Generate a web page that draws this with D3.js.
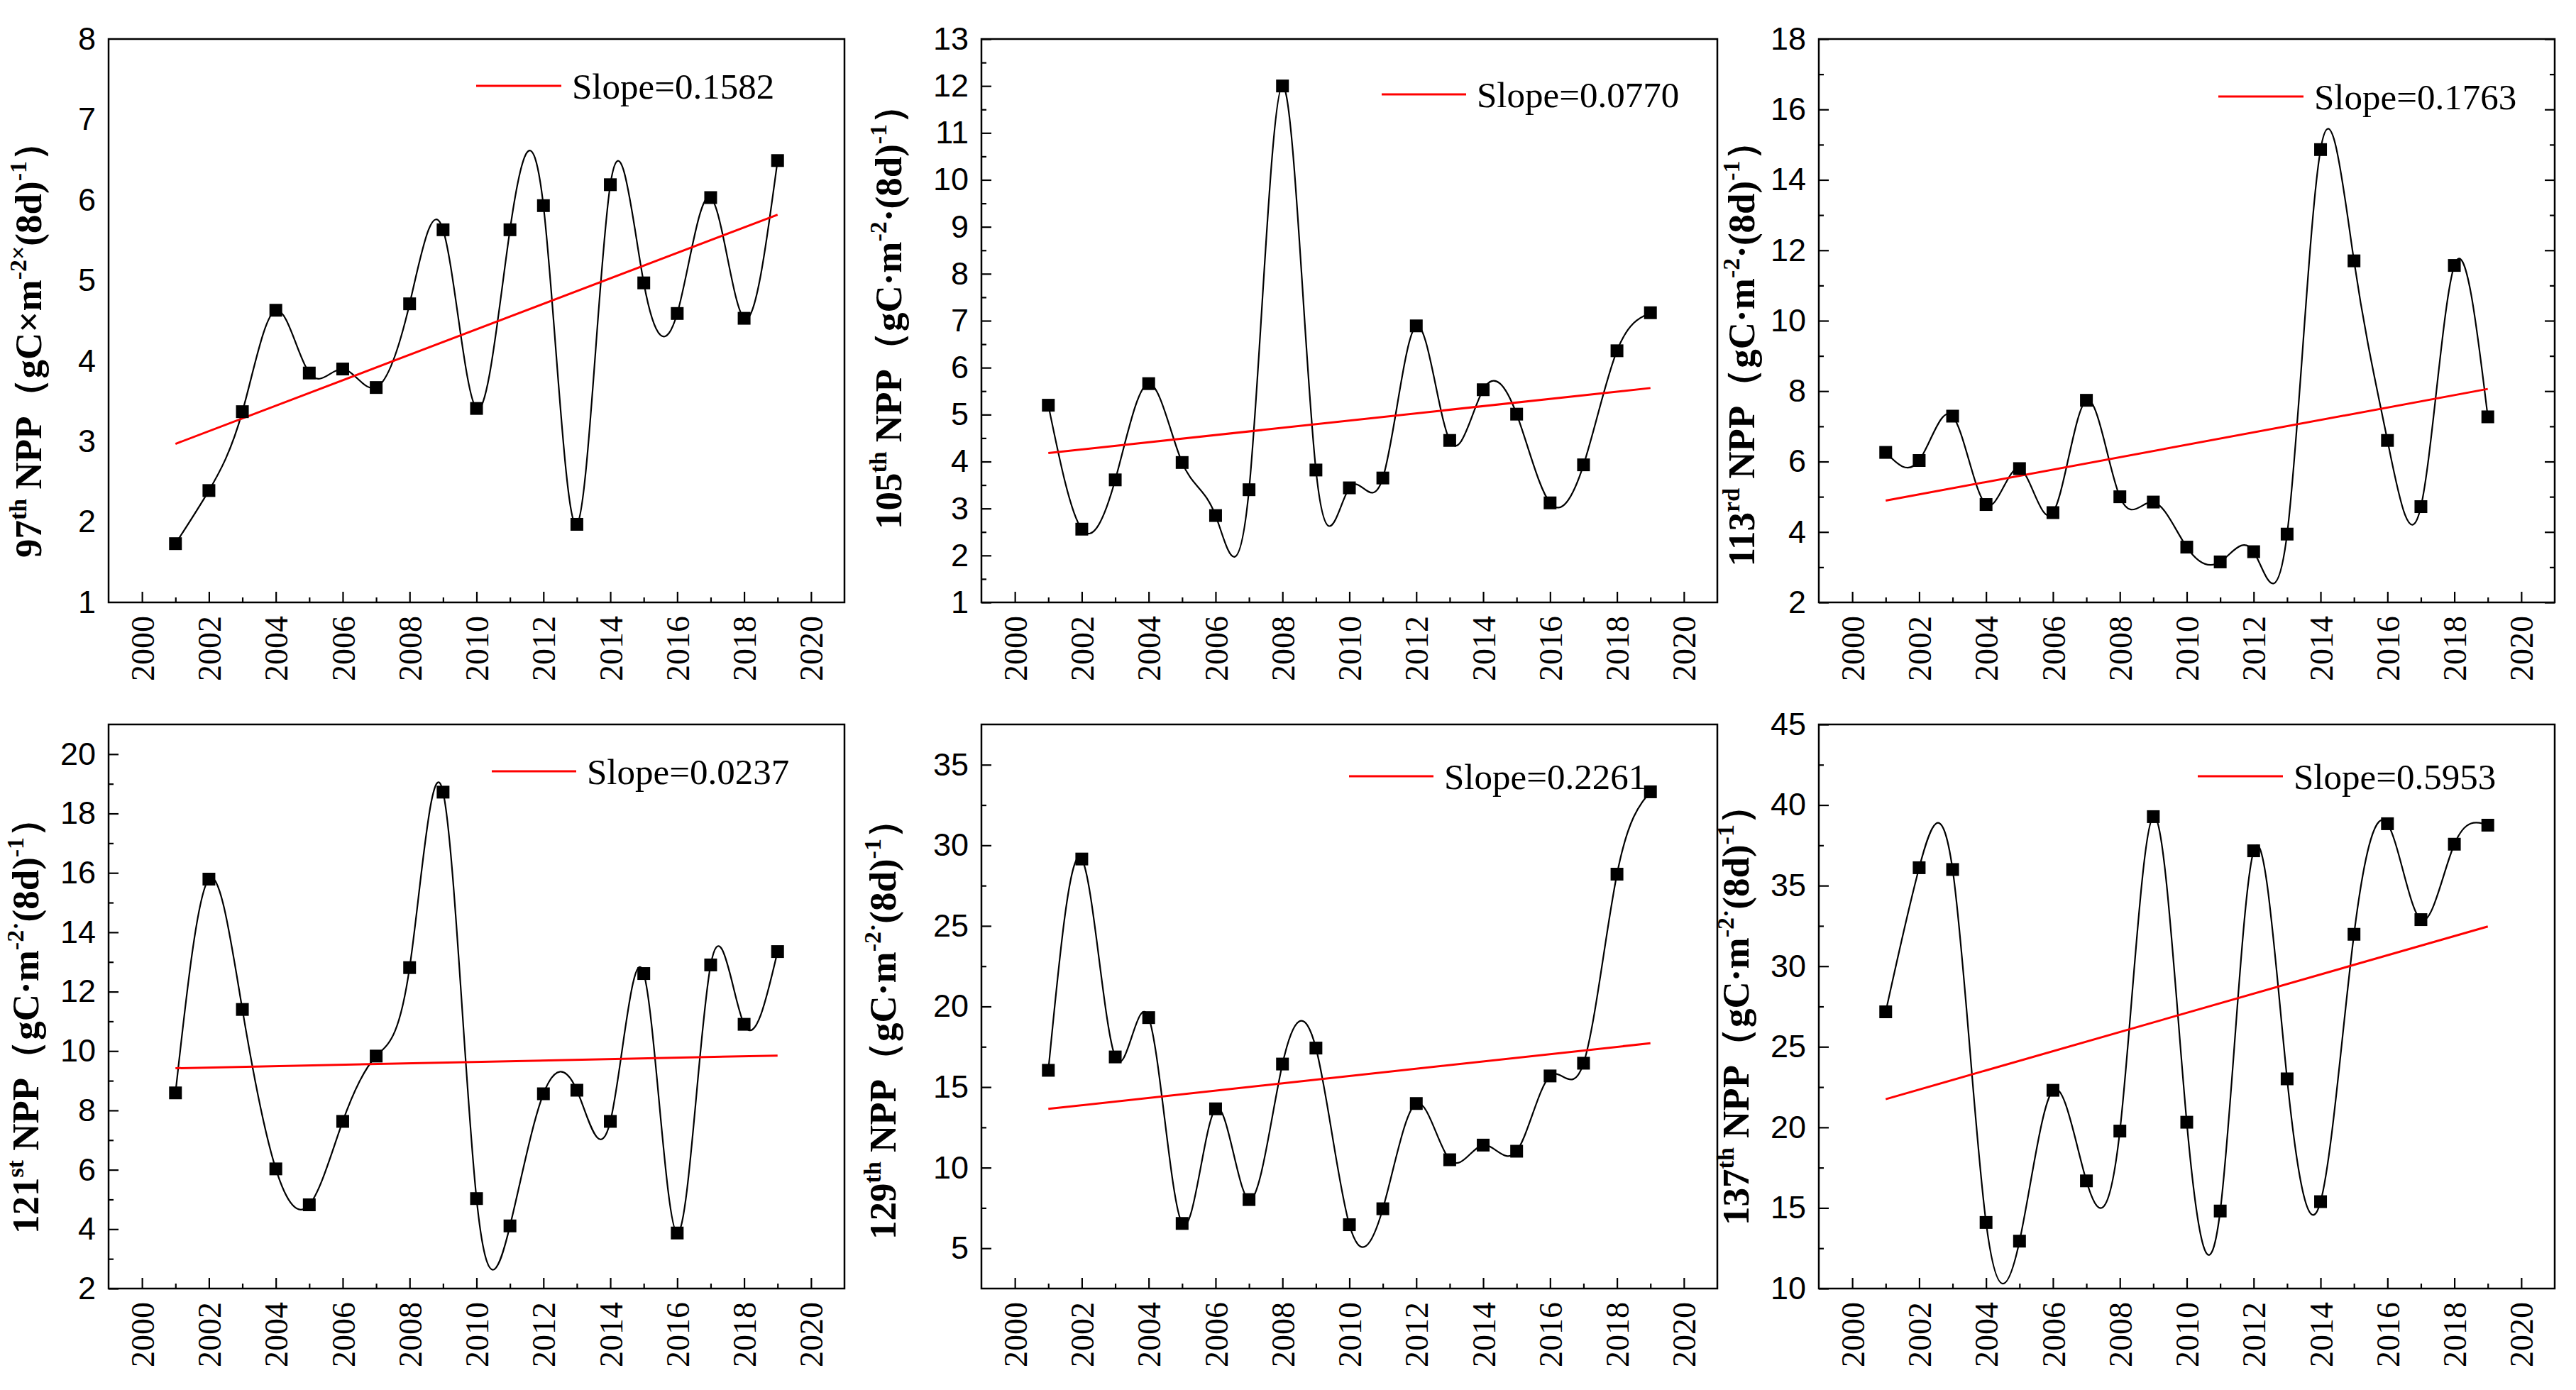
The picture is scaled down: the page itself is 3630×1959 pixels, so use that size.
<!DOCTYPE html>
<html>
<head>
<meta charset="utf-8">
<script src="https://cdn.jsdelivr.net/npm/d3@7"></script>
<style>
  html, body { margin: 0; padding: 0; background: #fff; }
</style>
</head>
<body>
<script>
// years on the x axis
const years = [2001, 2002, 2003, 2004, 2005, 2006, 2007, 2008, 2009, 2010,
               2011, 2012, 2013, 2014, 2015, 2016, 2017, 2018, 2019];

// NPP series, one per panel
const npp97  = [1.73, 2.39, 3.37, 4.63, 3.85, 3.90, 3.67, 4.71, 5.63, 3.41,
                5.63, 5.93, 1.97, 6.19, 4.97, 4.59, 6.03, 4.53, 6.49];
const npp105 = [5.20, 2.56, 3.61, 5.66, 3.98, 2.85, 3.40, 12.0, 3.82, 3.44,
                3.65, 6.89, 4.45, 5.53, 5.01, 3.12, 3.93, 6.36, 7.17];
const npp113 = [6.26, 6.03, 7.29, 4.78, 5.80, 4.55, 7.74, 5.00, 4.85, 3.57,
                3.15, 3.44, 3.94, 14.86, 11.70, 6.60, 4.72, 11.57, 7.27];
const npp121 = [8.59, 15.79, 11.40, 6.03, 4.82, 7.63, 9.83, 12.81, 18.72, 5.03,
                4.11, 8.56, 8.68, 7.63, 12.61, 3.87, 12.90, 10.90, 13.35];
const npp129 = [16.04, 29.15, 16.87, 19.31, 6.54, 13.65, 8.02, 16.43, 17.42, 6.46,
                7.45, 13.98, 10.49, 11.40, 11.02, 15.69, 16.48, 28.21, 33.32];
const npp137 = [27.17, 36.11, 36.00, 14.10, 12.94, 22.30, 16.68, 19.77, 39.28, 20.32,
                14.81, 37.16, 23.01, 15.39, 31.98, 38.84, 32.89, 37.57, 38.75];

// linear trend: value at 2001 and slope
const trendStart = [2.97, 4.18, 4.89, 9.42, 13.65, 21.75];
const slopes = [0.1582, 0.0770, 0.1763, 0.0237, 0.2261, 0.5953];
const slopeLabels = ["Slope=0.1582", "Slope=0.0770", "Slope=0.1763",
                     "Slope=0.0237", "Slope=0.2261", "Slope=0.5953"];

// axes
const xDomain = [1999, 2021];
const xMajor = [2000, 2002, 2004, 2006, 2008, 2010, 2012, 2014, 2016, 2018, 2020];
const xMinor = [2001, 2003, 2005, 2007, 2009, 2011, 2013, 2015, 2017, 2019];
const yDomains = [[1, 8], [1, 13], [2, 18], [2, 21], [2.5, 37.5], [10, 45]];
const yMajor = [
  [1, 2, 3, 4, 5, 6, 7, 8],
  [1, 2, 3, 4, 5, 6, 7, 8, 9, 10, 11, 12, 13],
  [2, 4, 6, 8, 10, 12, 14, 16, 18],
  [2, 4, 6, 8, 10, 12, 14, 16, 18, 20],
  [5, 10, 15, 20, 25, 30, 35],
  [10, 15, 20, 25, 30, 35, 40, 45]
];
const yMinor = [
  [],
  [1.5, 2.5, 3.5, 4.5, 5.5, 6.5, 7.5, 8.5, 9.5, 10.5, 11.5, 12.5],
  [3, 5, 7, 9, 11, 13, 15, 17],
  [3, 5, 7, 9, 11, 13, 15, 17, 19],
  [7.5, 12.5, 17.5, 22.5, 27.5, 32.5],
  [12.5, 17.5, 22.5, 27.5, 32.5, 37.5, 42.5]
];

// y axis titles: [text, superscript?]
const titles = [
  [["97", 0], ["th", 1], [" NPP（gC×m", 0], ["-2×", 1], ["(8d)", 0], ["-1", 1], ["）", 0]],
  [["105", 0], ["th", 1], [" NPP（gC·m", 0], ["-2", 1], ["·(8d)", 0], ["-1", 1], ["）", 0]],
  [["113", 0], ["rd", 1], [" NPP（gC·m", 0], ["-2", 1], ["·(8d)", 0], ["-1", 1], ["）", 0]],
  [["121", 0], ["st", 1], [" NPP（gC·m", 0], ["-2·", 1], ["(8d)", 0], ["-1", 1], ["）", 0]],
  [["129", 0], ["th", 1], [" NPP（gC·m", 0], ["-2·", 1], ["(8d)", 0], ["-1", 1], ["）", 0]],
  [["137", 0], ["th", 1], [" NPP（gC·m", 0], ["-2·", 1], ["(8d)", 0], ["-1", 1], ["）", 0]]
];

const series = [npp97, npp105, npp113, npp121, npp129, npp137];

// layout
const W = 3630, H = 1959;
const colX = [153, 1383, 2563];
const rowY = [55, 1021];
const plotW = 1037;
const plotH = [794, 795];
const titlePos = [[58, 480], [1270, 434], [2472, 486], [54, 1433], [1262, 1438], [2464, 1418]];
const legendPos = [[671, 791, 121], [1947, 2066, 133], [3126, 3246, 136],
                   [693, 812, 1087], [1901, 2020, 1094], [3097, 3217, 1094]];
const leftTicks = [false, true, true, true, true, true];
const rightTicks = [false, false, true, false, false, false];

const serif = "'Liberation Serif', 'Times New Roman', serif";
const sans = "'Liberation Sans', Arial, sans-serif";

const svg = d3.create("svg")
  .attr("width", W)
  .attr("height", H)
  .attr("viewBox", `0 0 ${W} ${H}`)
  .style("background", "#fff");

series.forEach((vals, i) => {
  const col = i % 3, row = Math.floor(i / 3);
  const x0 = colX[col], y0 = rowY[row], h = plotH[row];

  const x = d3.scaleLinear().domain(xDomain).range([0, plotW]);
  const y = d3.scaleLinear().domain(yDomains[i]).range([h, 0]);

  const g = svg.append("g").attr("transform", `translate(${x0},${y0})`);

  // x axis: minor then major ticks, pointing inward
  g.append("g")
    .attr("transform", `translate(0,${h})`)
    .call(d3.axisBottom(x).tickValues(xMinor).tickSize(-7).tickFormat(""))
    .call(a => a.select(".domain").remove());

  const xa = g.append("g")
    .attr("transform", `translate(0,${h})`)
    .call(d3.axisBottom(x).tickValues(xMajor).tickSize(-15).tickFormat(d3.format("d")))
    .call(a => a.select(".domain").remove());
  xa.selectAll("text")
    .attr("transform", "rotate(-90)")
    .attr("text-anchor", "end")
    .attr("x", -19)
    .attr("y", 0)
    .attr("dy", "0.35em")
    .style("font-family", serif)
    .style("font-size", "46px")
    .attr("fill", "#000");

  // y axis
  if (yMinor[i].length && leftTicks[i]) {
    g.append("g")
      .call(d3.axisLeft(y).tickValues(yMinor[i]).tickSize(-7).tickFormat(""))
      .call(a => a.select(".domain").remove());
  }
  const ya = g.append("g")
    .call(d3.axisLeft(y).tickValues(yMajor[i]).tickSize(leftTicks[i] ? -14 : 0)
      .tickPadding(18).tickFormat(d3.format("d")))
    .call(a => a.select(".domain").remove());
  ya.selectAll("text")
    .style("font-family", sans)
    .style("font-size", "45px")
    .attr("fill", "#000");

  if (rightTicks[i]) {
    g.append("g")
      .attr("transform", `translate(${plotW},0)`)
      .call(d3.axisRight(y).tickValues(yMinor[i]).tickSize(-7).tickFormat(""))
      .call(a => a.select(".domain").remove());
    g.append("g")
      .attr("transform", `translate(${plotW},0)`)
      .call(d3.axisRight(y).tickValues(yMajor[i]).tickSize(-14).tickFormat(""))
      .call(a => a.select(".domain").remove());
  }

  g.selectAll(".tick line").attr("stroke", "#000").attr("stroke-width", 2.2);

  // frame
  g.append("rect")
    .attr("x", 0).attr("y", 0)
    .attr("width", plotW).attr("height", h)
    .attr("fill", "none")
    .attr("stroke", "#000")
    .attr("stroke-width", 2.5);

  // smoothed data line
  const pts = years.map((yr, k) => [yr, vals[k]]);
  const line = d3.line()
    .x(d => x(d[0]))
    .y(d => y(d[1]))
    .curve(d3.curveNatural);
  g.append("path")
    .datum(pts)
    .attr("d", line)
    .attr("fill", "none")
    .attr("stroke", "#000")
    .attr("stroke-width", 2.2);

  // trend line
  const trend = [[years[0], trendStart[i]],
                 [years[years.length - 1], trendStart[i] + slopes[i] * (years[years.length - 1] - years[0])]];
  g.append("path")
    .datum(trend)
    .attr("d", d3.line().x(d => x(d[0])).y(d => y(d[1])))
    .attr("fill", "none")
    .attr("stroke", "#ff0000")
    .attr("stroke-width", 3);

  // square markers
  g.selectAll("rect.pt")
    .data(pts)
    .join("rect")
    .attr("class", "pt")
    .attr("x", d => x(d[0]) - 9)
    .attr("y", d => y(d[1]) - 9)
    .attr("width", 18)
    .attr("height", 18)
    .attr("fill", "#000");

  // legend
  const [lx1, lx2, ly] = legendPos[i];
  svg.append("line")
    .attr("x1", lx1).attr("x2", lx2)
    .attr("y1", ly).attr("y2", ly)
    .attr("stroke", "#ff0000")
    .attr("stroke-width", 3);
  svg.append("text")
    .attr("x", lx2 + 15)
    .attr("y", ly)
    .attr("dy", "0.35em")
    .style("font-family", serif)
    .style("font-size", "51px")
    .attr("fill", "#000")
    .text(slopeLabels[i]);

  // y title
  const [tx, ty] = titlePos[i];
  const t = svg.append("text")
    .attr("transform", `translate(${tx},${ty}) rotate(-90)`)
    .attr("text-anchor", "middle")
    .attr("dy", "0.33em")
    .style("font-family", serif)
    .style("font-weight", "bold")
    .style("font-size", "53px")
    .attr("fill", "#000");
  let shift = 0;
  titles[i].forEach(([txt, sup]) => {
    const target = sup ? -21 : 0;
    const ts = t.append("tspan")
      .attr("dy", target - shift)
      .style("font-size", sup ? "34px" : "53px")
      .text(txt);
    if (txt.includes("（") || txt.includes("）")) {
      // full-width brackets come from the CJK font
    }
    shift = target;
  });
});

document.body.append(svg.node());
</script>
</body>
</html>
